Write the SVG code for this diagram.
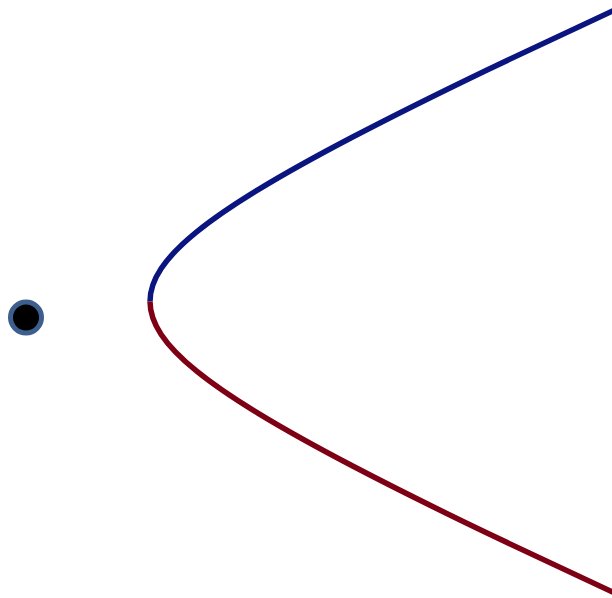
<svg xmlns="http://www.w3.org/2000/svg" width="612" height="598" viewBox="0 0 612 598">
<style>
.branch{fill:none;stroke-width:5.5;stroke-linecap:butt}
.up{stroke:#0b1580}
.down{stroke:#7d0014}
</style>
<rect width="612" height="598" fill="#ffffff"/>
<g id="connectors">
<path class="branch up" d="M150,301.5 C150,290.6 153.72,279.7 161.33,268.31 C168.94,256.92 180.45,245.02 196.37,232.1 C212.29,219.18 232.61,205.23 258.27,189.61 C283.93,173.99 314.92,156.71 352.66,136.97 C390.4,117.23 434.87,95.05 488.1,69.41 C541.33,43.77 603.32,14.67 676.87,-19.2"/>
<path class="branch down" d="M150,301.5 C150,312.4 153.72,323.3 161.33,334.69 C168.94,346.08 180.45,357.98 196.37,370.9 C212.29,383.82 232.61,397.77 258.27,413.39 C283.93,429.01 314.92,446.29 352.66,466.03 C390.4,485.77 434.87,507.95 488.1,533.59 C541.33,559.23 603.32,588.33 676.87,622.2"/>
</g>
<g id="point">
<circle cx="26" cy="317.5" r="15.5" fill="#000000" stroke="#3c5f8e" stroke-width="5"/>
</g>
</svg>
